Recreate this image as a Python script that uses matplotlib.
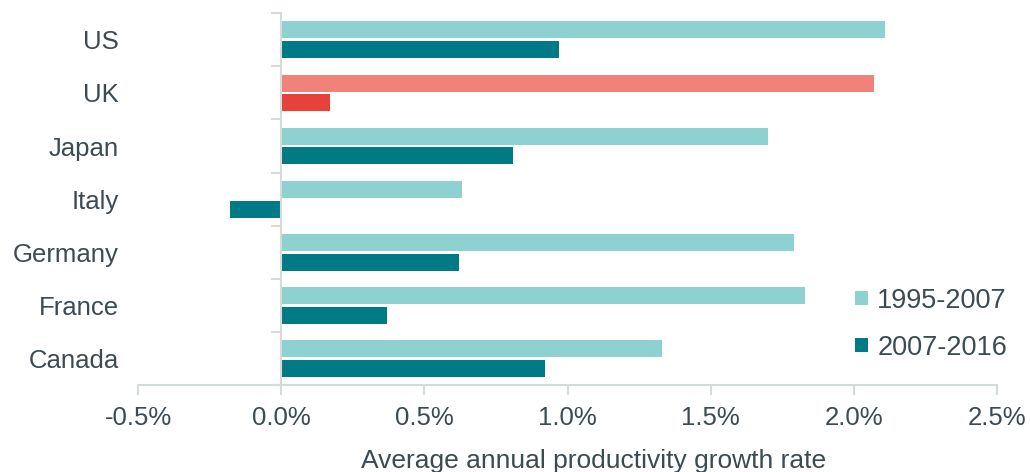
import numpy as np
import matplotlib.pyplot as plt
from matplotlib.ticker import FuncFormatter

# 数据
countries = ['US', 'UK', 'Japan', 'Italy', 'Germany', 'France', 'Canada']
growth_1995_2007 = [2.11, 2.07, 1.70, 0.63, 1.79, 1.83, 1.33]
growth_2007_2016 = [0.97, 0.17, 0.81, -0.18, 0.62, 0.37, 0.92]

light = '#8DD1D1'
dark = '#007A85'
light_uk = '#F0827A'
dark_uk = '#E8413A'
txt = '#3C4A52'
axc = '#D3DDD5'

plt.rcParams['font.family'] = ['Liberation Sans', 'DejaVu Sans']

fig, ax = plt.subplots(figsize=(10.3, 4.72), dpi=100)
fig.subplots_adjust(left=0.134, right=0.968, top=0.972, bottom=0.184)

y = np.arange(len(countries))
h = 0.32
c1 = [light_uk if c == 'UK' else light for c in countries]
c2 = [dark_uk if c == 'UK' else dark for c in countries]
ax.barh(y - 0.185, growth_1995_2007, height=h, color=c1, label='1995-2007')
ax.barh(y + 0.185, growth_2007_2016, height=h, color=c2, label='2007-2016')

ax.set_xlim(-0.5, 2.5)
ax.set_ylim(len(countries) - 0.5, -0.5)
ax.set_xticks(np.arange(-0.5, 2.51, 0.5))
ax.xaxis.set_major_formatter(FuncFormatter(lambda v, p: f'{v:.1f}%'))
ax.set_yticks(y)
ax.set_yticklabels(countries)
ax.set_yticks(np.arange(-0.5, len(countries), 1), minor=True)

for s in ['top', 'right']:
    ax.spines[s].set_visible(False)
ax.spines['left'].set_position(('data', 0))
ax.spines['left'].set_color(axc)
ax.spines['left'].set_linewidth(1.5)
ax.spines['bottom'].set_color(axc)
ax.spines['bottom'].set_linewidth(1.5)

ax.tick_params(axis='y', which='major', length=0, pad=117, labelsize=18.5, labelcolor=txt)
ax.tick_params(axis='y', which='minor', length=7, width=1.5, color=axc)
ax.tick_params(axis='x', length=7, width=1.5, color=axc, labelsize=18.5, labelcolor=txt, pad=8)

ax.set_xlabel('Average annual productivity growth rate', fontsize=19, color=txt)
ax.xaxis.set_label_coords(0.53, -0.172)

ax.legend(loc='lower right', bbox_to_anchor=(1.04, 0.0), frameon=False, fontsize=19.5,
          handlelength=0.45, handleheight=0.45, handletextpad=0.35, labelcolor=txt,
          labelspacing=0.78)

fig.savefig('out.png', dpi=100)
